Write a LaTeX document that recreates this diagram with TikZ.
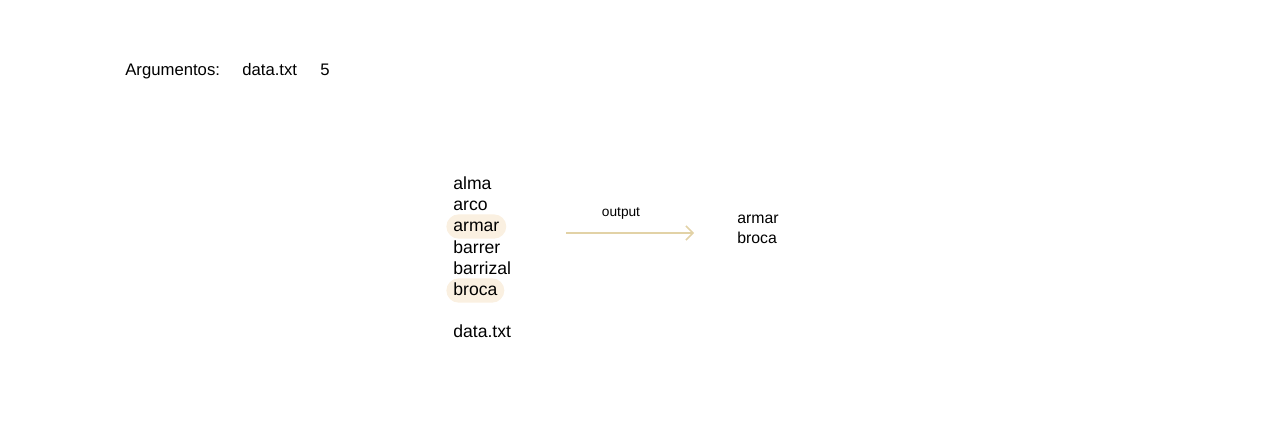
\documentclass[tikz,border=0pt]{standalone}
\usepackage{fontspec}
\usetikzlibrary{arrows.meta}
\setmainfont{Liberation Sans}
\definecolor{hlfill}{HTML}{FAF0E1}
\definecolor{arrowtan}{HTML}{E2D2A6}
\tikzset{
  word/.style={anchor=west, inner xsep=4pt, inner ysep=1.5pt, text height=1.6ex, text depth=0.45ex,
    font=\fontsize{10}{12}\selectfont},
  marked/.style={word, fill=hlfill, rounded corners=7pt},
  arg/.style={anchor=west, inner sep=0pt, text height=1.6ex, text depth=0.45ex, font=\fontsize{9.5}{11}\selectfont},
  result/.style={anchor=west, inner sep=0pt, text height=1.6ex, text depth=0.45ex, font=\fontsize{9}{11}\selectfont}
}
\begin{document}
\begin{tikzpicture}
    \useasboundingbox (0,0) rectangle (25.6,8.94);
        % command line
        \node[arg] (args) at (2.50,7.54) {Argumentos:};
        \node[arg] (file) at (4.84,7.54) {data.txt};
        \node[arg] (num)  at (6.40,7.54) {5};
        % file contents
        \node[word]   (w1) at (8.92,5.26) {alma};
        \node[word]   (w2) at (8.92,4.83) {arco};
        \node[marked] (w3) at (8.92,4.41) {armar};
        \node[word]   (w4) at (8.92,3.98) {barrer};
        \node[word]   (w5) at (8.92,3.56) {barrizal};
        \node[marked] (w6) at (8.92,3.13) {broca};
        \node[word]   (fname) at (8.92,2.29) {data.txt};
        % output
        \coordinate (from) at (11.32,4.28);
        \coordinate (to)   at (13.88,4.28);
        \node[font=\fontsize{7.8}{9}\selectfont] (lbl) at (12.42,4.68) {output};
        \draw[arrowtan, line width=0.9pt, -{Straight Barb[length=4pt,width=8pt]}] (from) -- (to);
        \node[result] (r1) at (14.74,4.58) {armar};
        \node[result] (r2) at (14.74,4.18) {broca};
    \end{tikzpicture}
\end{document}
